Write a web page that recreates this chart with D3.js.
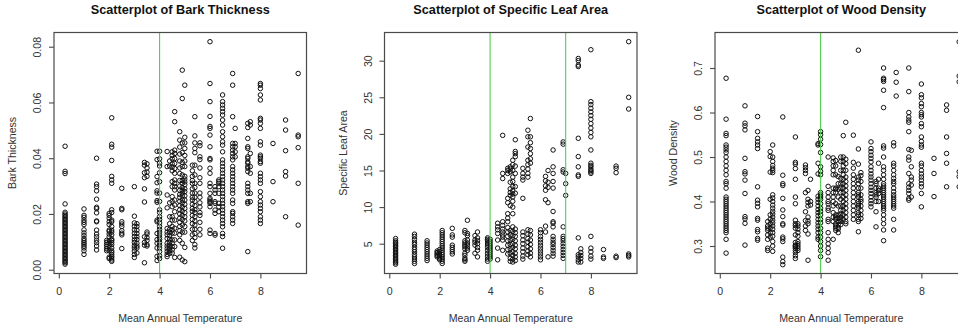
<!DOCTYPE html>
<html>
<head>
<meta charset="utf-8">
<script src="https://cdn.jsdelivr.net/npm/d3@7"></script>
<style>
  body { margin: 0; background: #fff; }
  svg { display: block; font-family: "Liberation Sans", Arial, sans-serif; }
</style>
</head>
<body>
<svg id="chart" width="958" height="331"></svg>
<script>
// tick labels
const tempTicks = [0, 2, 4, 6, 8];
const barkTicks = [0, 0.02, 0.04, 0.06, 0.08];
const slaTicks = [5, 10, 15, 20, 25, 30];
const woodTicks = [0.3, 0.4, 0.5, 0.6, 0.7];

// each entry: [mean annual temperature, values observed at that temperature]
const barkCols = [
  [0.25, [0.0443, 0.0353, 0.0345, 0.0236, 0.0206, 0.0200, 0.0195, 0.019, 0.0185, 0.018, 0.0175, 0.017, 0.0165, 0.016, 0.0155, 0.015, 0.0145, 0.014, 0.0135, 0.013, 0.0125, 0.012, 0.0115, 0.011, 0.0105, 0.010, 0.0095, 0.009, 0.0085, 0.008, 0.0075, 0.007, 0.0065, 0.006, 0.0055, 0.005, 0.0045, 0.004, 0.0035, 0.003, 0.0025, 0.002]],
  [1.0, [0.0218, 0.0195, 0.0188, 0.0178, 0.017, 0.0162, 0.0143, 0.0132, 0.0122, 0.0112, 0.0105, 0.0098, 0.0092, 0.0085, 0.0078, 0.0068, 0.0055]],
  [1.5, [0.040, 0.0307, 0.0298, 0.0283, 0.0253, 0.0224, 0.0219, 0.0204, 0.0175, 0.0172, 0.0142, 0.0128, 0.0118, 0.0106, 0.0097, 0.0085, 0.0071]],
  [1.9, [0.0105, 0.0098, 0.009, 0.0083, 0.0075, 0.0068]],
  [2.0, [0.0202, 0.0195, 0.0185, 0.0172, 0.0162, 0.0142, 0.0138, 0.0128, 0.0118, 0.0105, 0.0095, 0.0085, 0.0068, 0.0045, 0.004]],
  [2.1, [0.0545, 0.045, 0.044, 0.0392, 0.0335, 0.0322, 0.031, 0.0215, 0.0205, 0.0178, 0.0172, 0.0155, 0.0142, 0.0135, 0.0125, 0.011, 0.0105, 0.0098, 0.009, 0.0078, 0.0068, 0.0062, 0.0055, 0.0048, 0.0042, 0.0035, 0.003]],
  [2.5, [0.0292, 0.022, 0.0215, 0.0172, 0.0164, 0.0155, 0.014, 0.0131, 0.0125, 0.0076]],
  [3.0, [0.0298, 0.0192, 0.0168, 0.0156, 0.0143, 0.0131, 0.0119, 0.0107, 0.0098, 0.0086, 0.0078, 0.0067, 0.0055, 0.0044]],
  [3.1, [0.0165, 0.0155, 0.0142, 0.013, 0.0118, 0.0108, 0.0095, 0.0085, 0.0078, 0.006]],
  [3.4, [0.0385, 0.0375, 0.0348, 0.033, 0.029, 0.0243, 0.0118, 0.0098, 0.0088, 0.0025]],
  [3.5, [0.038, 0.0365, 0.035, 0.0335, 0.0135, 0.0128, 0.0115, 0.0105, 0.009, 0.0085]],
  [3.9, [0.0425, 0.0395, 0.0334, 0.0312, 0.0283, 0.0275, 0.0248, 0.0242, 0.0178, 0.0172, 0.013, 0.0108, 0.0095, 0.0078, 0.0048, 0.0033]],
  [4.0, [0.0425, 0.0398, 0.0382, 0.0372, 0.0348, 0.0316, 0.0275, 0.0245, 0.0215, 0.0205, 0.019, 0.018, 0.0168, 0.0155, 0.0145, 0.0135, 0.0125, 0.0115, 0.0108, 0.0098, 0.0088, 0.0078, 0.0065, 0.005, 0.004]],
  [4.3, [0.0424, 0.037, 0.0268, 0.0222, 0.0148, 0.0135, 0.0125, 0.0112, 0.0095, 0.0085, 0.0075, 0.0065, 0.0055, 0.0047]],
  [4.4, [0.039, 0.0372, 0.024, 0.019, 0.0165, 0.0145, 0.0135, 0.0122, 0.011, 0.0098, 0.0088, 0.0078, 0.0068, 0.0059]],
  [4.5, [0.0423, 0.041, 0.0398, 0.038, 0.0368, 0.0355, 0.0316, 0.0298, 0.0262, 0.0245, 0.0226, 0.019, 0.0178, 0.0155, 0.0143, 0.0131, 0.0107, 0.0095, 0.0083, 0.0071, 0.006]],
  [4.6, [0.0567, 0.0531, 0.0429, 0.0417, 0.0399, 0.0381, 0.0363, 0.0346, 0.0322, 0.031, 0.0298, 0.0286, 0.025, 0.0232, 0.0208, 0.0178, 0.0149, 0.0131, 0.0107, 0.0083, 0.0044]],
  [4.8, [0.0495, 0.0465, 0.044, 0.0415, 0.039, 0.0365, 0.0345, 0.032, 0.03, 0.0285, 0.027, 0.026, 0.0245, 0.023, 0.0215, 0.02, 0.0185, 0.017, 0.0155, 0.014, 0.0125, 0.0105, 0.0045]],
  [4.9, [0.0716, 0.0614, 0.0455, 0.042, 0.0385, 0.037, 0.034, 0.032, 0.031, 0.0295, 0.0285, 0.0275, 0.0265, 0.025, 0.024, 0.0225, 0.021, 0.0195, 0.018, 0.016, 0.0135, 0.0095, 0.0035]],
  [5.0, [0.0662, 0.0475, 0.0455, 0.0435, 0.041, 0.039, 0.037, 0.0335, 0.0325, 0.0315, 0.0305, 0.029, 0.028, 0.0265, 0.025, 0.0235, 0.022, 0.0205, 0.019, 0.0175, 0.0155, 0.0135, 0.008, 0.0029]],
  [5.3, [0.0375, 0.0355, 0.0335, 0.032, 0.031, 0.029, 0.0275, 0.026, 0.025, 0.0235, 0.022, 0.021, 0.0195, 0.018, 0.0165, 0.0145, 0.0125, 0.0105]],
  [5.4, [0.0549, 0.048, 0.0455, 0.0435, 0.042, 0.0375, 0.034, 0.031, 0.0295, 0.0275, 0.026, 0.0245, 0.023, 0.0215, 0.0205, 0.019, 0.0175, 0.016, 0.0145, 0.013, 0.0115, 0.009, 0.0078]],
  [5.6, [0.0455, 0.0445, 0.0405, 0.0395, 0.0365, 0.033, 0.031, 0.0275, 0.026, 0.024, 0.0225, 0.0205, 0.0195, 0.017, 0.0145, 0.0125]],
  [6.0, [0.0818, 0.0668, 0.0603, 0.055, 0.0514, 0.0507, 0.0483, 0.0441, 0.0399, 0.0394, 0.0364, 0.0346, 0.031, 0.0298, 0.0274, 0.0256, 0.025, 0.0244, 0.0238, 0.0226, 0.0142, 0.013]],
  [6.2, [0.0298, 0.0286, 0.0274, 0.0244, 0.0238, 0.0214, 0.0202, 0.013, 0.0124]],
  [6.35, [0.0322, 0.0316, 0.031, 0.0298, 0.0274, 0.0238, 0.0226, 0.0208]],
  [6.5, [0.0627, 0.0603, 0.0591, 0.0579, 0.0567, 0.0555, 0.0537, 0.0519, 0.0495, 0.0477, 0.0459, 0.0447, 0.0423, 0.0394, 0.0382, 0.037, 0.0358, 0.0346, 0.0334, 0.0322, 0.031, 0.0298, 0.0286, 0.0274, 0.0262, 0.025, 0.0238, 0.0226, 0.0214, 0.0202, 0.019, 0.0178, 0.0166, 0.0154, 0.013, 0.0119, 0.0077]],
  [6.9, [0.0704, 0.0662, 0.0549, 0.0453, 0.0441, 0.0429, 0.0417, 0.0405, 0.0394, 0.037, 0.0358, 0.0346, 0.0334, 0.0322, 0.031, 0.0298, 0.0286, 0.0274, 0.025, 0.0238, 0.0208, 0.0202, 0.019, 0.0178, 0.0166]],
  [7.0, [0.0507, 0.0453, 0.0441, 0.0423, 0.0405]],
  [7.5, [0.0525, 0.051, 0.0471, 0.0441, 0.0435, 0.0405, 0.0399, 0.0387, 0.0382, 0.037, 0.0364, 0.0352, 0.031, 0.0298, 0.0286, 0.0274, 0.0244, 0.0238, 0.0065]],
  [7.6, [0.0531, 0.0519, 0.0417, 0.037, 0.0346, 0.0274, 0.0244]],
  [8.0, [0.0668, 0.0662, 0.065, 0.0627, 0.0609, 0.0543, 0.0537, 0.0525, 0.0507, 0.0459, 0.0447, 0.0411, 0.0405, 0.0399, 0.0388, 0.0382, 0.0346, 0.0334, 0.0322, 0.031, 0.028, 0.0262, 0.0244, 0.0232, 0.022, 0.0208, 0.019, 0.0178, 0.0166]],
  [8.5, [0.0453, 0.0316, 0.0244]],
  [9.0, [0.0537, 0.0501, 0.0427, 0.0352, 0.0336, 0.019]],
  [9.5, [0.0704, 0.0483, 0.0477, 0.0438, 0.031, 0.016]]
];

const slaCols = [
  [0.25, [5.7, 5.4, 5.2, 5.0, 4.8, 4.6, 4.4, 4.2, 4.0, 3.8, 3.6, 3.4, 3.2, 3.0, 2.8, 2.6, 2.4, 2.2]],
  [1.0, [6.3, 6.0, 5.6, 5.2, 4.9, 4.5, 4.2, 3.9, 3.5, 3.2, 2.9, 2.6, 2.3]],
  [1.5, [5.4, 5.1, 4.8, 4.5, 4.2, 3.9, 3.6, 3.3, 3.0, 2.7]],
  [1.9, [4.0, 3.8, 3.6, 3.4, 3.2]],
  [2.0, [4.2, 3.9, 3.5, 3.2, 3.0, 2.8]],
  [2.1, [6.8, 6.5, 6.2, 5.9, 5.6, 5.3, 5.0, 4.7, 4.4, 4.1, 3.8, 3.5, 3.2, 2.9, 2.6, 2.3]],
  [2.5, [7.1, 6.2, 5.9, 4.8, 4.5, 4.2, 3.9, 3.6]],
  [3.0, [6.8, 6.5, 5.4, 5.1, 4.8, 4.6, 4.3, 3.7, 3.4, 3.0, 2.8, 2.6]],
  [3.1, [8.2, 6.4, 6.1, 5.5, 5.1, 4.8, 4.4, 4.1]],
  [3.4, [6.1, 5.5, 5.2, 4.8, 3.7]],
  [3.5, [6.6, 5.8, 5.4, 5.0, 4.5, 4.1, 3.2]],
  [3.9, [5.8, 5.6, 5.4, 5.1, 4.8, 4.5, 4.1, 3.7, 3.3, 2.9, 2.6]],
  [4.0, [5.6, 5.3, 5.0, 4.7, 4.4, 4.1, 3.8, 3.5, 3.2, 2.9]],
  [4.3, [7.8, 7.3, 6.9, 6.4, 5.5, 4.4, 2.8]],
  [4.5, [19.8, 14.6, 13.9, 8.0, 7.5, 7.0, 6.6, 6.2, 5.9, 5.5, 4.1]],
  [4.7, [15.3, 15.0, 14.6, 11.2, 10.6, 9.1, 8.5, 8.0, 7.2, 6.6, 6.0, 5.4, 4.8, 4.2, 3.6]],
  [4.8, [15.5, 15.2, 14.8, 13.4, 12.5, 12.0, 11.6, 10.2, 6.8, 6.2, 5.5, 4.9, 4.3, 3.7, 3.0, 2.6]],
  [4.9, [16.4, 15.8, 15.0, 14.1, 13.5, 12.8, 12.2, 11.8, 11.4, 10.8, 10.0, 9.1, 7.3, 6.7, 6.1, 5.6, 5.0, 4.5, 3.9, 3.4, 2.9, 2.5]],
  [5.0, [19.2, 17.6, 17.3, 16.9, 15.6, 14.6, 12.8, 11.9, 7.0, 6.5, 6.0, 5.4, 4.8, 4.3, 3.7, 3.2, 2.7]],
  [5.3, [15.3, 14.6, 14.1, 13.7, 11.2, 6.6, 6.1, 5.5, 5.0, 4.4, 3.9, 3.3, 2.9]],
  [5.5, [20.5, 19.6, 18.2, 16.4, 15.8, 15.2, 14.6, 14.1, 6.9, 6.3, 5.7, 5.2, 4.6, 4.0, 3.5]],
  [5.6, [22.1, 19.6, 18.8, 18.0, 17.3, 16.6, 16.0, 6.8, 6.2, 5.5, 4.9, 4.3, 3.7, 3.2]],
  [6.0, [6.9, 6.5, 6.0, 5.6, 5.2, 4.8, 4.4, 4.0, 3.6, 3.2, 2.8]],
  [6.2, [14.2, 13.6, 12.9, 12.3, 11.0, 7.4, 6.6]],
  [6.3, [15.0, 13.4, 12.7, 10.6, 3.2]],
  [6.5, [17.8, 15.5, 14.6, 13.5, 12.6, 9.4, 8.0, 7.8, 7.3, 6.0, 5.6, 5.2, 4.9, 4.5, 4.1, 3.7, 3.3]],
  [6.9, [18.9, 18.6, 15.1, 14.8, 7.3, 6.0, 5.7, 5.4, 5.0, 4.6, 4.2, 3.8, 3.4, 3.0]],
  [7.0, [14.6, 13.2, 11.6]],
  [7.5, [30.3, 30.0, 29.4, 29.2, 19.4, 16.9, 15.5, 14.4, 14.2, 5.8, 3.5, 3.2, 2.8, 2.5]],
  [7.6, [4.3, 3.8, 3.4, 3.0, 2.5]],
  [8.0, [31.5, 24.4, 24.0, 23.5, 23.0, 22.5, 22.0, 21.4, 20.8, 20.2, 19.6, 17.8, 16.0, 15.7, 15.5, 15.2, 15.0, 14.8, 14.6, 6.0, 4.4, 3.9, 3.3, 2.9]],
  [8.5, [4.2, 3.2, 3.0]],
  [9.0, [15.6, 15.3, 14.7, 3.3, 3.1]],
  [9.5, [32.6, 25.0, 23.4, 3.6, 3.4, 3.2]]
];

const woodCols = [
  [0.25, [0.677, 0.585, 0.553, 0.548, 0.527, 0.522, 0.516, 0.51, 0.5, 0.49, 0.48, 0.47, 0.46, 0.445, 0.44, 0.43, 0.41, 0.405, 0.4, 0.395, 0.39, 0.385, 0.38, 0.375, 0.37, 0.365, 0.36, 0.355, 0.35, 0.345, 0.34, 0.335, 0.33, 0.315, 0.284]],
  [1.0, [0.615, 0.576, 0.57, 0.561, 0.497, 0.467, 0.462, 0.448, 0.418, 0.366, 0.361, 0.351, 0.302]],
  [1.5, [0.591, 0.557, 0.542, 0.534, 0.527, 0.519, 0.433, 0.403, 0.396, 0.388, 0.362, 0.358, 0.337, 0.332, 0.317, 0.313]],
  [1.9, [0.355, 0.345, 0.34, 0.335, 0.325, 0.315, 0.295, 0.29]],
  [2.0, [0.512, 0.501, 0.466, 0.405, 0.37, 0.36, 0.35, 0.34, 0.33, 0.32]],
  [2.1, [0.527, 0.5, 0.49, 0.481, 0.475, 0.47, 0.465, 0.415, 0.408, 0.4, 0.392, 0.385, 0.378, 0.372, 0.365, 0.358, 0.352, 0.345, 0.338, 0.33, 0.322, 0.31, 0.3, 0.288]],
  [2.5, [0.59, 0.459, 0.44, 0.436, 0.407, 0.381, 0.366, 0.35, 0.347, 0.32, 0.316, 0.31, 0.275, 0.265, 0.258]],
  [3.0, [0.545, 0.488, 0.484, 0.474, 0.45, 0.41, 0.395, 0.358, 0.35, 0.346, 0.34, 0.325, 0.308, 0.302, 0.3, 0.298, 0.295, 0.29, 0.285, 0.278, 0.272]],
  [3.1, [0.35, 0.345, 0.338, 0.33, 0.322, 0.31, 0.305, 0.3, 0.295, 0.29]],
  [3.4, [0.482, 0.476, 0.47, 0.463, 0.42, 0.377, 0.357, 0.345, 0.335]],
  [3.5, [0.425, 0.405, 0.398, 0.39, 0.365, 0.356, 0.35, 0.327, 0.268]],
  [3.6, [0.45, 0.4, 0.392]],
  [3.9, [0.53, 0.527, 0.486, 0.462, 0.412, 0.405, 0.398, 0.39, 0.382, 0.375, 0.368, 0.36, 0.352, 0.345, 0.338, 0.33, 0.32, 0.315]],
  [4.0, [0.557, 0.55, 0.54, 0.528, 0.51, 0.478, 0.468, 0.46, 0.42, 0.415, 0.41, 0.405, 0.395, 0.385, 0.378, 0.37, 0.36, 0.352, 0.34, 0.33, 0.32, 0.31, 0.3, 0.29, 0.276]],
  [4.3, [0.5, 0.434, 0.42, 0.41, 0.4, 0.395, 0.385, 0.38, 0.36, 0.355, 0.33, 0.315, 0.305, 0.295, 0.285, 0.268]],
  [4.5, [0.498, 0.49, 0.48, 0.47, 0.46, 0.43, 0.42, 0.41, 0.4, 0.39, 0.375, 0.365, 0.355, 0.315]],
  [4.6, [0.492, 0.48, 0.46, 0.43, 0.428, 0.42, 0.395, 0.37, 0.365, 0.36, 0.35, 0.345, 0.34, 0.335]],
  [4.7, [0.456, 0.44, 0.428, 0.41, 0.39, 0.37, 0.362, 0.355, 0.348, 0.342, 0.338, 0.33]],
  [4.8, [0.5, 0.49, 0.47, 0.452, 0.44, 0.43, 0.42, 0.405, 0.39, 0.38, 0.372, 0.365, 0.36, 0.355, 0.348]],
  [4.9, [0.548, 0.5, 0.49, 0.48, 0.47, 0.46, 0.45, 0.44, 0.43, 0.42, 0.41, 0.4, 0.39, 0.38, 0.37, 0.36]],
  [5.0, [0.578, 0.495, 0.485, 0.47, 0.455, 0.445, 0.435, 0.425, 0.415, 0.405, 0.395, 0.385, 0.375, 0.365, 0.355, 0.35]],
  [5.3, [0.549, 0.488, 0.475, 0.46, 0.45, 0.44, 0.43, 0.42, 0.41, 0.4, 0.39, 0.38, 0.37, 0.36]],
  [5.5, [0.74, 0.518, 0.484, 0.455, 0.448, 0.44, 0.43, 0.42, 0.415, 0.41, 0.4, 0.395, 0.39, 0.385, 0.375, 0.37, 0.36, 0.355, 0.332]],
  [5.6, [0.465, 0.458, 0.445, 0.43, 0.415, 0.405, 0.4, 0.39, 0.38, 0.37, 0.362]],
  [6.0, [0.534, 0.519, 0.512, 0.504, 0.497, 0.489, 0.478, 0.47, 0.462, 0.455, 0.448, 0.44, 0.432, 0.425, 0.418, 0.41, 0.402, 0.395, 0.388]],
  [6.2, [0.445, 0.44, 0.43, 0.42, 0.415, 0.41, 0.4, 0.377, 0.343]],
  [6.3, [0.486, 0.45, 0.43, 0.425, 0.418, 0.4]],
  [6.5, [0.7, 0.677, 0.674, 0.67, 0.65, 0.611, 0.525, 0.52, 0.5, 0.478, 0.47, 0.46, 0.45, 0.44, 0.435, 0.43, 0.425, 0.42, 0.415, 0.41, 0.405, 0.4, 0.395, 0.39, 0.385, 0.38, 0.37, 0.36, 0.35, 0.336, 0.312]],
  [6.9, [0.532, 0.525, 0.486, 0.48, 0.47, 0.46, 0.452, 0.445, 0.44, 0.43, 0.422, 0.415, 0.41, 0.405, 0.4, 0.395, 0.39, 0.385, 0.36, 0.336]],
  [7.0, [0.69, 0.668, 0.637]],
  [7.5, [0.7, 0.647, 0.6, 0.59, 0.583, 0.578, 0.557, 0.517, 0.5, 0.493, 0.463, 0.44, 0.432, 0.425, 0.418, 0.407, 0.403]],
  [7.6, [0.515, 0.478, 0.455, 0.448, 0.437, 0.41]],
  [8.0, [0.664, 0.64, 0.633, 0.62, 0.613, 0.6, 0.595, 0.59, 0.575, 0.568, 0.545, 0.535, 0.527, 0.522, 0.486, 0.48, 0.47, 0.462, 0.455, 0.448, 0.44, 0.433, 0.418, 0.388]],
  [8.5, [0.497, 0.463, 0.411]],
  [9.0, [0.617, 0.605, 0.545, 0.508, 0.486, 0.433]],
  [9.5, [0.759, 0.682, 0.669, 0.467, 0.456, 0.433]]
];

const panels = [
  { title: "Scatterplot of Bark Thickness", ylab: "Bark Thickness", cols: barkCols,
    ticks: barkTicks, fmt: d3.format(".2f"), ydom: [-0.00136, 0.0851], cuts: [4] },
  { title: "Scatterplot of Specific Leaf Area", ylab: "Specific Leaf Area", cols: slaCols,
    ticks: slaTicks, fmt: d3.format("d"), ydom: [0.93, 33.85], cuts: [4, 7] },
  { title: "Scatterplot of Wood Density", ylab: "Wood Density", cols: woodCols,
    ticks: woodTicks, fmt: d3.format(".1f"), ydom: [0.2382, 0.7798], cuts: [4] }
];

const xlab = "Mean Annual Temperature";

// layout of the three panels (R mfrow style, last one cut by the image edge)
const panelStep = 330.5;
const boxLeft = 54, boxW = 252.5, boxTop = 32.5, boxBottom = 273.5;
const lineCol = "#4a4a4a", textCol = "#333";

const svg = d3.select("#chart");

panels.forEach((p, i) => {
  const left = boxLeft + i * panelStep;
  const right = left + boxW;
  const g = svg.append("g");

  const x = d3.scaleLinear().domain([-0.19, 9.83]).range([left, right]);
  const y = d3.scaleLinear().domain(p.ydom).range([boxBottom, boxTop]);

  const clipId = "clip" + i;
  svg.append("clipPath").attr("id", clipId)
    .append("rect")
    .attr("x", left).attr("y", boxTop)
    .attr("width", boxW).attr("height", boxBottom - boxTop);

  // points
  const pts = [];
  p.cols.forEach(c => c[1].forEach(v => pts.push({ t: c[0], v: v })));

  g.append("g")
    .selectAll("circle")
    .data(pts)
    .enter()
    .append("circle")
    .attr("cx", d => x(d.t))
    .attr("cy", d => y(d.v))
    .attr("r", 2.25)
    .attr("fill", "none")
    .attr("stroke", "#111")
    .attr("stroke-width", 1);

  // vertical reference lines
  g.append("g")
    .attr("clip-path", "url(#" + clipId + ")")
    .selectAll("line")
    .data(p.cuts)
    .enter()
    .append("line")
    .attr("x1", d => x(d)).attr("x2", d => x(d))
    .attr("y1", boxTop).attr("y2", boxBottom)
    .attr("stroke", "#4fcf4f")
    .attr("stroke-width", 1.1);

  // box
  g.append("rect")
    .attr("x", left).attr("y", boxTop)
    .attr("width", boxW).attr("height", boxBottom - boxTop)
    .attr("fill", "none")
    .attr("stroke", lineCol)
    .attr("stroke-width", 1.2);

  // x axis
  const xa = g.append("g")
    .attr("transform", "translate(0," + boxBottom + ")")
    .call(d3.axisBottom(x).tickValues(tempTicks).tickSize(5).tickPadding(8.5).tickFormat(d3.format("d")));
  xa.select(".domain").remove();
  xa.selectAll("line").attr("stroke", lineCol).attr("stroke-width", 1.1);
  xa.selectAll("text").attr("fill", textCol).style("font-size", "10.6px")
    .style("font-family", "'Liberation Sans', Arial, sans-serif");

  // y axis, labels parallel to the axis
  const ya = g.append("g")
    .attr("transform", "translate(" + left + ",0)")
    .call(d3.axisLeft(y).tickValues(p.ticks).tickSize(5).tickFormat(p.fmt));
  ya.select(".domain").remove();
  ya.selectAll("line").attr("stroke", lineCol).attr("stroke-width", 1.1);
  ya.selectAll("text")
    .attr("x", null)
    .attr("dy", "0.35em")
    .attr("transform", "translate(-16.5,0) rotate(-90)")
    .attr("text-anchor", "middle")
    .attr("fill", textCol)
    .style("font-size", "10.6px")
    .style("font-family", "'Liberation Sans', Arial, sans-serif");

  // titles and axis labels
  const mid = (left + right) / 2;
  g.append("text")
    .attr("x", mid).attr("y", 13.5)
    .attr("text-anchor", "middle")
    .attr("font-weight", "bold")
    .attr("font-size", "12.7px")
    .attr("fill", "#111")
    .text(p.title);

  g.append("text")
    .attr("x", mid).attr("y", 321.8)
    .attr("text-anchor", "middle")
    .attr("font-size", "10.6px")
    .attr("fill", textCol)
    .text(xlab);

  g.append("text")
    .attr("transform", "translate(" + (left - 41.5) + "," + ((boxTop + boxBottom) / 2) + ") rotate(-90)")
    .attr("dy", "0.35em")
    .attr("text-anchor", "middle")
    .attr("font-size", "10.6px")
    .attr("fill", textCol)
    .text(p.ylab);
});
</script>
</body>
</html>
